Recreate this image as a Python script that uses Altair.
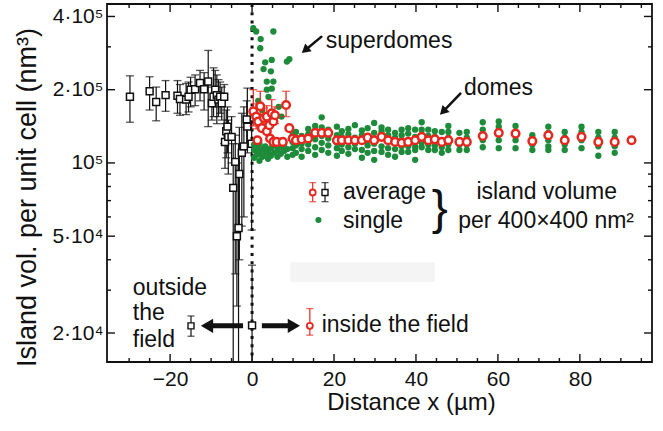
import altair as alt
import pandas as pd

# plot area in pixels
W, H = 545, 358
X_DOM = [-35.4, 97.6]
Y_DOM = [0.152, 4.5]          # island volume in units of 10^5 nm^3

RED = "#e5281f"
GREEN = "#1d8b3a"
INK = "#111111"
FONT = "Liberation Sans"

# ---- averaged volume outside the field (x < 0): position, mean, error-bar ends
out_x = [-29.8, -25.0, -23.4, -21.1, -18.2, -17.6, -16.1, -15.5, -15.0, -13.9,
         -12.7, -11.7, -10.7, -9.8, -9.4, -9.0, -8.6, -8.2, -7.8, -7.4,
         -6.8, -6.6, -6.3, -6.0, -5.8, -5.0, -4.6, -4.1, -3.7, -3.3,
         -3.1, -2.5, -2.0, -1.3, -1.15, -0.1, 0.0]
out_v = [1.87, 1.97, 1.78, 1.90, 1.89, 1.83, 1.82, 1.87, 2.00, 2.01,
         2.13, 2.01, 2.16, 1.76, 1.87, 2.00, 1.90, 1.82, 1.87, 1.76,
         1.87, 1.22, 1.35, 1.41, 1.28, 1.28, 0.79, 1.01, 0.50, 0.54,
         0.90, 1.10, 1.17, 1.51, 1.41, 1.20, 0.215]
out_lo = [1.47, 1.65, 1.49, 1.63, 1.60, 1.57, 1.58, 1.62, 1.70, 1.72,
          1.80, 1.65, 1.41, 1.50, 1.55, 1.70, 1.45, 1.55, 1.60, 1.50,
          1.20, 0.95, 1.05, 1.10, 0.90, 1.00, 0.10, 0.35, 0.258, 0.10,
          0.40, 0.55, 0.60, 1.20, 1.10, 0.53, 0.10]
out_hi = [2.28, 2.26, 2.05, 2.18, 2.18, 2.10, 2.12, 2.15, 2.25, 2.30,
          2.40, 2.35, 2.90, 2.05, 2.46, 2.40, 2.30, 2.20, 2.15, 2.05,
          2.10, 1.45, 1.65, 1.70, 1.50, 1.55, 1.20, 1.30, 1.00, 1.20,
          1.40, 1.60, 1.70, 1.80, 2.03, 1.45, 0.38]

# ---- averaged volume inside the field (x > 0)
in_x = [0.3, 1.0, 1.3, 1.5, 2.0, 2.4, 2.9, 3.6, 3.6, 4.2,
        4.4, 4.8, 5.2, 5.2, 5.6, 6.0, 7.5, 8.3, 9.1, 9.9,
        10.7, 12.1, 13.7, 15.4, 17.0, 18.6, 20.7, 21.9, 23.5, 25.1,
        26.8, 28.2, 29.8, 31.6, 33.2, 34.9, 36.5, 38.1, 39.8, 41.4,
        43.0, 44.6, 46.3, 47.9, 50.6, 52.4, 56.3, 60.2, 64.3, 68.4,
        72.3, 76.3, 80.4, 84.5, 88.5, 92.6]
in_v = [1.63, 1.55, 1.24, 1.48, 1.71, 1.39, 1.53, 1.55, 1.35, 1.43,
        1.26, 1.60, 1.48, 1.22, 1.57, 1.22, 1.22, 1.73, 1.39, 1.26,
        1.24, 1.25, 1.26, 1.33, 1.33, 1.33, 1.24, 1.24, 1.24, 1.24,
        1.24, 1.27, 1.24, 1.28, 1.24, 1.22, 1.21, 1.22, 1.24, 1.28,
        1.24, 1.25, 1.22, 1.24, 1.22, 1.22, 1.29, 1.33, 1.32, 1.23,
        1.30, 1.24, 1.28, 1.22, 1.22, 1.24]
# error bars that stand out of the symbols
in_err_x = [0.3, 1.0, 2.0, 2.9, 3.6, 4.8, 5.6, 8.3]
in_err_lo = [1.42, 1.38, 1.50, 1.38, 1.40, 1.45, 1.45, 1.55]
in_err_hi = [2.00, 1.75, 1.97, 1.68, 1.72, 1.82, 1.70, 1.97]

# ---- single measurements, grouped by position
single_cols = {
    0.5: [1.05, 1.13, 1.19], 1.2: [1.08, 1.16], 1.8: [1.02, 1.11, 1.20],
    2.5: [1.06, 1.14], 3.2: [1.09, 1.17], 3.9: [1.04, 1.12],
    4.6: [1.07, 1.15], 5.4: [1.10, 1.18], 6.2: [1.06, 1.13],
    7.0: [1.09, 1.16], 7.8: [1.12, 1.19], 8.6: [1.06, 1.14],
    9.9: [1.08, 1.15, 1.22, 1.30], 10.7: [1.10, 1.18, 1.27, 1.34],
    12.1: [1.06, 1.14, 1.20, 1.29], 13.7: [1.12, 1.19, 1.31, 1.38],
    15.4: [1.08, 1.16, 1.25, 1.36, 1.42], 17.0: [1.13, 1.21, 1.29, 1.40, 1.54],
    18.6: [1.10, 1.18, 1.26, 1.37], 20.7: [1.07, 1.15, 1.21, 1.30, 1.41],
    21.9: [1.12, 1.19, 1.28, 1.35], 23.5: [1.09, 1.16, 1.31, 1.38],
    25.1: [1.14, 1.20, 1.27, 1.43], 26.8: [1.05, 1.13, 1.30, 1.36],
    28.2: [1.10, 1.18, 1.24, 1.39], 29.8: [1.03, 1.12, 1.20, 1.33, 1.46],
    31.6: [1.11, 1.17, 1.35, 1.40], 33.2: [1.08, 1.15, 1.30, 1.37],
    34.9: [1.06, 1.14, 1.27, 1.33],
    36.5: [1.37, 1.30, 1.24, 1.17, 1.11], 38.1: [1.39, 1.32, 1.17, 1.11],
    39.8: [1.37, 1.28, 1.17, 1.13, 1.03], 41.4: [1.47, 1.37, 1.30, 1.21, 1.16],
    43.0: [1.37, 1.29, 1.19, 1.13], 44.6: [1.35, 1.28, 1.18, 1.13],
    46.3: [1.34, 1.24, 1.16, 1.10], 47.9: [1.42, 1.34, 1.27, 1.19, 1.13],
    50.6: [1.33, 1.24, 1.19, 1.13], 52.4: [1.34, 1.27, 1.19, 1.13],
    56.3: [1.47, 1.37, 1.24, 1.16], 60.2: [1.48, 1.41, 1.34, 1.24, 1.15],
    64.3: [1.42, 1.34, 1.24, 1.15], 68.4: [1.30, 1.26, 1.19, 1.13],
    72.3: [1.41, 1.33, 1.24, 1.17, 1.13], 76.3: [1.34, 1.27, 1.19, 1.13],
    80.4: [1.41, 1.34, 1.24, 1.15], 84.5: [1.34, 1.27, 1.17, 1.07],
    88.5: [1.34, 1.27, 1.17, 1.10], 92.6: [1.24],
}
# superdomes and other large single islands near the field edge
big_x = [0.3, 1.0, 5.2, 2.0, 2.1, 4.8, 3.2, 9.1, 8.5, 2.8,
         4.6, 3.6, 5.2, 3.6, 4.8, 4.0, 1.5, 2.5, 6.5, 7.2]
big_v = [3.58, 3.47, 3.47, 2.96, 3.23, 2.65, 2.59, 2.67, 2.61, 2.43,
         2.38, 2.16, 2.16, 2.00, 2.02, 1.87, 1.80, 1.65, 1.70, 1.55]

# axis ticks (drawn inward on all four sides)
X_MAJOR = [-20, 0, 20, 40, 60, 80]
X_MINOR = [-30, -25, -15, -10, -5, 5, 10, 15, 25, 30, 35, 45, 50, 55,
           65, 70, 75, 85, 90, 95]
Y_MAJOR = [0.2, 0.5, 1, 2, 4]
Y_MINOR = [0.3, 0.4, 0.6, 0.7, 0.8, 0.9, 3]

# ---- tables
out_df = pd.DataFrame({"x": out_x, "v": out_v, "lo": out_lo, "hi": out_hi})
in_df = pd.DataFrame({"x": in_x, "v": in_v})
in_err_df = pd.DataFrame({"x": in_err_x, "lo": in_err_lo, "hi": in_err_hi})
sx, sv = [], []
for px, vals in single_cols.items():
    for val in vals:
        sx.append(px)
        sv.append(val)
single_df = pd.DataFrame({"x": sx + big_x, "v": sv + big_v})

xs = alt.Scale(domain=X_DOM, nice=False, zero=False)
ys = alt.Scale(type="log", domain=Y_DOM, nice=False)


def ex(field="x"):
    return alt.X(f"{field}:Q", scale=xs, axis=None)


def ey(field="v"):
    return alt.Y(f"{field}:Q", scale=ys, axis=None)


layers = []

# faint band
band = pd.DataFrame({"x": [9.3], "x2": [44.6], "y": [0.324], "y2": [0.391]})
layers.append(alt.Chart(band).mark_rect(color="#f4f4f4").encode(
    x=ex(), x2="x2:Q", y=ey("y"), y2="y2:Q"))

# field edge
layers.append(alt.Chart(pd.DataFrame({"x": [0.0]})).mark_rule(
    color=INK, strokeWidth=3, strokeDash=[3, 5.3]).encode(x=ex()))

# outside averages
layers.append(alt.Chart(out_df).mark_rule(color=INK, strokeWidth=1.2, clip=True).encode(
    x=ex(), y=ey("lo"), y2="hi:Q"))
for end in ["lo", "hi"]:
    layers.append(alt.Chart(out_df).mark_tick(
        orient="horizontal", size=8, thickness=1.3, color=INK, clip=True).encode(
        x=ex(), y=ey(end)))
layers.append(alt.Chart(out_df).mark_point(
    shape="square", size=48, filled=True, fill="white", stroke=INK,
    strokeWidth=1.5, opacity=1).encode(x=ex(), y=ey()))

# single islands
layers.append(alt.Chart(single_df).mark_circle(size=40, color=GREEN, opacity=1).encode(
    x=ex(), y=ey()))

# inside averages
layers.append(alt.Chart(in_err_df).mark_rule(color=RED, strokeWidth=1.3).encode(
    x=ex(), y=ey("lo"), y2="hi:Q"))
for end in ["lo", "hi"]:
    layers.append(alt.Chart(in_err_df).mark_tick(
        orient="horizontal", size=8, thickness=1.3, color=RED).encode(
        x=ex(), y=ey(end)))
layers.append(alt.Chart(in_df).mark_point(
    shape="circle", size=58, filled=True, fill="white", stroke=RED,
    strokeWidth=2.5, opacity=1).encode(x=ex(), y=ey()))

# ---- key glyphs
key_red = pd.DataFrame({"x": [14.8, 14.1], "v": [0.756, 0.214],
                        "lo": [0.693, 0.196], "hi": [0.83, 0.252]})
key_black = pd.DataFrame({"x": [17.8, -14.9], "v": [0.756, 0.214],
                          "lo": [0.693, 0.194], "hi": [0.83, 0.235]})
for kdf, col in [(key_red, RED), (key_black, INK)]:
    layers.append(alt.Chart(kdf).mark_rule(color=col, strokeWidth=1.2).encode(
        x=ex(), y=ey("lo"), y2="hi:Q"))
    for end in ["lo", "hi"]:
        layers.append(alt.Chart(kdf).mark_tick(
            orient="horizontal", size=7, thickness=1.3, color=col).encode(
            x=ex(), y=ey(end)))
layers.append(alt.Chart(key_red).mark_point(
    shape="circle", size=36, filled=True, fill="white", stroke=RED,
    strokeWidth=1.8, opacity=1).encode(x=ex(), y=ey()))
layers.append(alt.Chart(key_black).mark_point(
    shape="square", size=36, filled=True, fill="white", stroke=INK,
    strokeWidth=1.4, opacity=1).encode(x=ex(), y=ey()))
layers.append(alt.Chart(pd.DataFrame({"x": [16.2], "v": [0.583]})).mark_circle(
    size=36, color=GREEN, opacity=1).encode(x=ex(), y=ey()))

# ---- arrows
shafts = pd.DataFrame({
    "x": [-2.2, 2.4, 17.1, 51.0],
    "x2": [-11.0, 10.2, 12.95, 46.6],
    "v": [0.214, 0.214, 3.32, 1.94],
    "v2": [0.214, 0.214, 2.906, 1.625],
    "w": ["thick", "thick", "thin", "thin"],
})
layers.append(alt.Chart(shafts[shafts.w == "thick"]).mark_rule(
    color=INK, strokeWidth=5).encode(x=ex(), x2="x2:Q", y=ey(), y2="v2:Q"))
layers.append(alt.Chart(shafts[shafts.w == "thin"]).mark_rule(
    color=INK, strokeWidth=2.5).encode(x=ex(), x2="x2:Q", y=ey(), y2="v2:Q"))
layers.append(alt.Chart(pd.DataFrame({"x": [-11.0], "v": [0.214]})).mark_point(
    shape="triangle-left", size=200, filled=True, color=INK, opacity=1).encode(
    x=ex(), y=ey()))
layers.append(alt.Chart(pd.DataFrame({"x": [10.2], "v": [0.214]})).mark_point(
    shape="triangle-right", size=200, filled=True, color=INK, opacity=1).encode(
    x=ex(), y=ey()))
layers.append(alt.Chart(pd.DataFrame({"x": [12.95], "v": [2.906]})).mark_point(
    shape="triangle-up", angle=230, size=100, filled=True, color=INK, opacity=1).encode(
    x=ex(), y=ey()))
layers.append(alt.Chart(pd.DataFrame({"x": [46.6], "v": [1.625]})).mark_point(
    shape="triangle-up", angle=225, size=100, filled=True, color=INK, opacity=1).encode(
    x=ex(), y=ey()))

# ---- annotation text
note_text = ["superdomes", "domes", "average", "single", "per 400×400 nm²",
             "inside the field", "outside", "the", "field"]
note_x = [18.0, 51.7, 22.2, 22.2, 50.3, 17.0, -29.1, -29.1, -29.1]
note_v = [3.16, 2.03, 0.756, 0.577, 0.577, 0.216, 0.306, 0.241, 0.187]
notes = pd.DataFrame({"t": note_text, "x": note_x, "v": note_v})
layers.append(alt.Chart(notes).mark_text(
    align="left", baseline="middle", font=FONT, fontSize=23, color=INK).encode(
    x=ex(), y=ey(), text="t:N"))
layers.append(alt.Chart(pd.DataFrame({"t": ["island volume"], "x": [71.9], "v": [0.756]})).mark_text(
    align="center", baseline="middle", font=FONT, fontSize=23, color=INK).encode(
    x=ex(), y=ey(), text="t:N"))
layers.append(alt.Chart(pd.DataFrame({"t": ["}"], "x": [45.8], "v": [0.64]})).mark_text(
    align="center", baseline="middle", font=FONT, fontSize=48, color=INK).encode(
    x=ex(), y=ey(), text="t:N"))

# ---- inward tick marks on all four sides
for vals, ln in [(X_MAJOR, 8), (X_MINOR, 4)]:
    tdf = pd.DataFrame({"x": vals})
    layers.append(alt.Chart(tdf).mark_rule(color=INK, strokeWidth=1.4).encode(
        x=ex(), y=alt.value(H), y2=alt.value(H - ln)))
    layers.append(alt.Chart(tdf).mark_rule(color=INK, strokeWidth=1.4).encode(
        x=ex(), y=alt.value(0), y2=alt.value(ln)))
for vals, ln in [(Y_MAJOR, 8), (Y_MINOR, 4)]:
    tdf = pd.DataFrame({"v": vals})
    layers.append(alt.Chart(tdf).mark_rule(color=INK, strokeWidth=1.4).encode(
        y=ey(), x=alt.value(0), x2=alt.value(ln)))
    layers.append(alt.Chart(tdf).mark_rule(color=INK, strokeWidth=1.4).encode(
        y=ey(), x=alt.value(W), x2=alt.value(W - ln)))

# ---- labelled axes
anchor = pd.DataFrame({"x": [0.0], "v": [1.0]})
y_labels = ("datum.value == 4 ? '4·10⁵' : datum.value == 2 ? '2·10⁵' : "
            "datum.value == 1 ? '10⁵' : datum.value == 0.5 ? '5·10⁴' : '2·10⁴'")

layers.append(alt.Chart(anchor).mark_point(opacity=0).encode(
    x=alt.X("x:Q", scale=xs, axis=alt.Axis(
        orient="bottom", values=X_MAJOR, ticks=False, domain=False, grid=False,
        labelFont=FONT, labelFontSize=21, labelPadding=6, labelColor=INK,
        labelFlush=False, labelOverlap=False,
        title="Distance x (µm)", titleFont=FONT, titleFontSize=24,
        titleFontWeight="normal", titleColor=INK, titleX=304, titleY=40,
        titleBaseline="middle", titleAlign="center")),
    y=alt.Y("v:Q", scale=ys, axis=alt.Axis(
        orient="left", values=Y_MAJOR, labelExpr=y_labels, ticks=False,
        domain=False, grid=False, labelFont=FONT, labelFontSize=21,
        labelPadding=4, labelColor=INK, labelFlush=False, labelOverlap=False,
        title="Island vol. per unit cell (nm³)", titleFont=FONT,
        titleFontSize=27, titleFontWeight="normal", titleColor=INK,
        titleX=-80, titleY=193, titleBaseline="middle", titleAlign="center",
        titleAngle=270)),
))

chart = alt.layer(*layers).resolve_axis(
    x="independent", y="independent"
).properties(
    width=W, height=H,
    padding={"left": 107, "top": 4, "right": 11, "bottom": 69},
    autosize=alt.AutoSizeParams(type="none"),
    background="white",
).configure_view(stroke=INK, strokeWidth=1.8)

chart.save("out.html", embed_options={"renderer": "svg", "actions": False})
